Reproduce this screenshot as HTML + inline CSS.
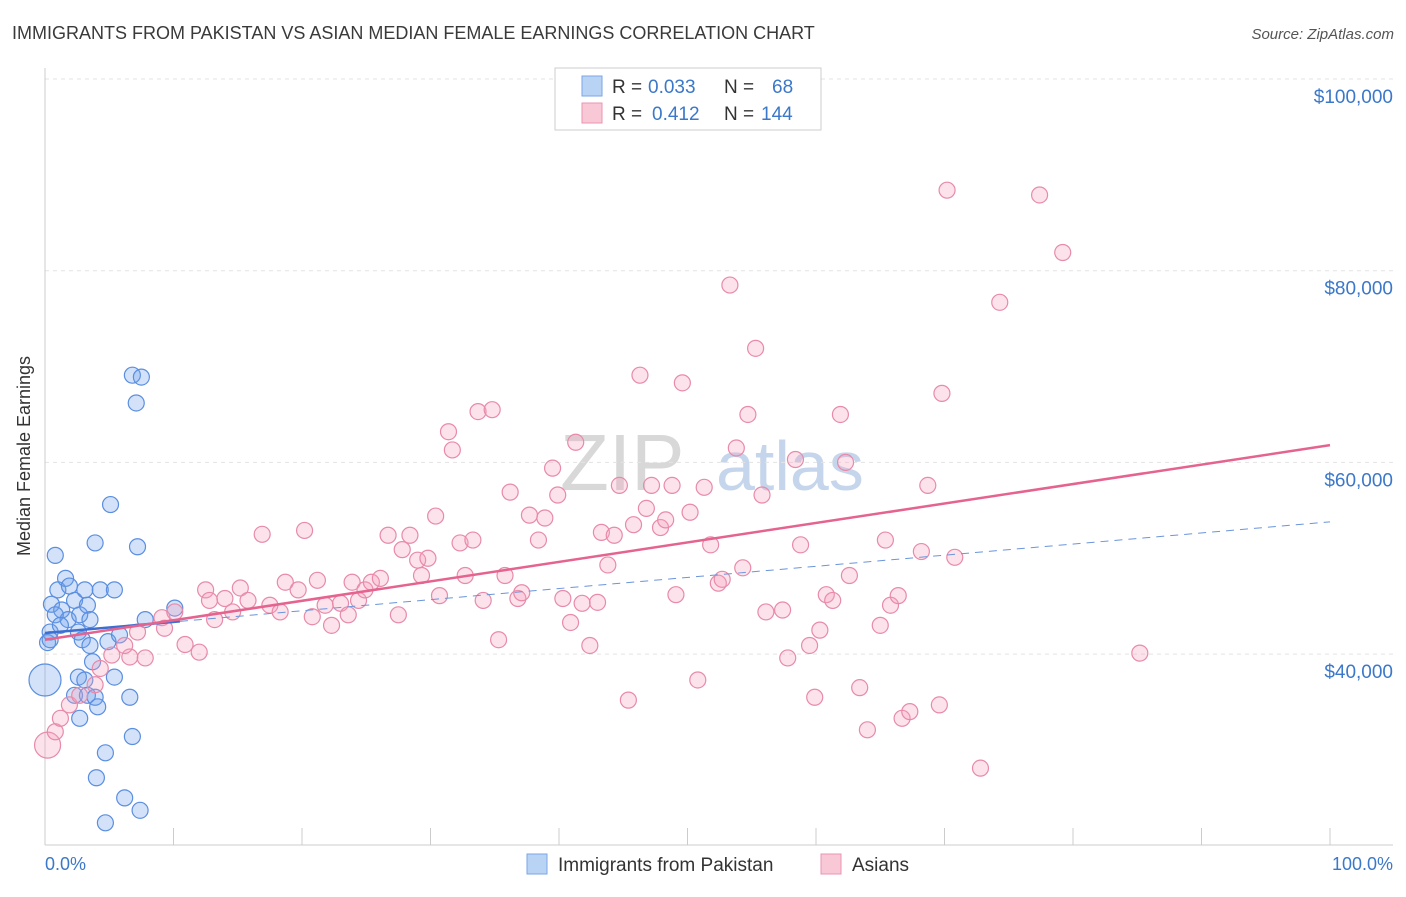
<!DOCTYPE html>
<html><head><meta charset="utf-8"><style>
body{margin:0;background:#fff;font-family:"Liberation Sans",sans-serif}
svg text{font-family:"Liberation Sans",sans-serif}
</style></head><body>
<svg id="c" width="1406" height="892" xmlns="http://www.w3.org/2000/svg">
<text x="12" y="39" font-size="18" fill="#3a3a3a">IMMIGRANTS FROM PAKISTAN VS ASIAN MEDIAN FEMALE EARNINGS CORRELATION CHART</text>
<text x="1394" y="39" font-size="15" fill="#555" font-style="italic" text-anchor="end">Source: ZipAtlas.com</text>
<text x="30" y="456" font-size="18" fill="#333" text-anchor="middle" transform="rotate(-90 30 456)">Median Female Earnings</text>
<text x="560" y="490" font-size="80" fill="#d8d8d8" font-family="Liberation Serif">ZIP</text>
<text x="716" y="490" font-size="70" fill="#c5d6ec">atlas</text>
<g id="grid"></g><g id="pts"></g><g id="lines"></g>
<g>
<rect x="555" y="68" width="266" height="62" fill="#fff" stroke="#ccc"/>
<rect x="582" y="76" width="20" height="20" fill="#b9d3f5" stroke="#7aa6e6"/>
<text x="612" y="93" font-size="19" fill="#333">R =</text><text x="648" y="93" font-size="19" fill="#3b78c9">0.033</text>
<text x="724" y="93" font-size="19" fill="#333">N =</text><text x="772" y="93" font-size="19" fill="#3b78c9">68</text>
<rect x="582" y="103" width="20" height="20" fill="#f9c8d6" stroke="#eb94b0"/>
<text x="612" y="120" font-size="19" fill="#333">R =</text><text x="652" y="120" font-size="19" fill="#3b78c9">0.412</text>
<text x="724" y="120" font-size="19" fill="#333">N =</text><text x="761" y="120" font-size="19" fill="#3b78c9">144</text>
</g>
<g>
<rect x="527" y="854" width="20" height="20" fill="#b9d3f5" stroke="#7aa6e6"/>
<text x="558" y="871" font-size="19" fill="#333">Immigrants from Pakistan</text>
<rect x="821" y="854" width="20" height="20" fill="#f9c8d6" stroke="#eb94b0"/>
<text x="852" y="871" font-size="19" fill="#333">Asians</text>
</g>
<text x="45" y="870" font-size="18" fill="#3b78c9">0.0%</text>
<text x="1393" y="870" font-size="18" fill="#3b78c9" text-anchor="end">100.0%</text>
</svg>
<script>
const yTicks=[40000,60000,80000,100000];
const yTickLabels=["$40,000","$60,000","$80,000","$100,000"];
const xTicks=[0,10,20,30,40,50,60,70,80,90,100];
const blueX=[0,0.2,0.4,0.8,0.5,1,1.6,1.9,1.3,1.8,2.3,2.7,3.1,3.3,3.5,3.9,4.3,5.4,5.1,6.8,7.5,7.1,7.2,2.6,2.9,3.5,4.9,5.8,3.7,2.6,3.1,5.4,2.3,3.3,3.9,6.6,4.1,2.7,4.7,6.8,4.0,6.2,7.4,4.7,7.8,10.1,0.8,1.2,0.4];
const blueY=[37.3,41.2,42.3,50.3,45.2,46.7,47.9,47.1,44.6,43.6,45.6,44.1,46.7,45.1,43.6,51.6,46.7,46.7,55.6,69.1,68.9,66.2,51.2,42.3,41.5,40.9,41.3,42.0,39.2,37.6,37.3,37.6,35.7,35.7,35.5,35.5,34.5,33.3,29.7,31.4,27.1,25.0,23.7,22.4,43.6,44.8,44.1,43.0,41.5];
const pinkX=[0.2,0.8,1.2,1.9,2.7,3.9,4.3,5.2,6.6,7.8,6.2,7.2,9.1,9.3,10.1,10.9,12.0,12.5,12.8,13.2,14.0,14.6,15.2,15.8,16.9,17.5,18.3,18.7,19.7,20.2,20.8,21.2,21.8,22.3,23.0,23.6,23.9,24.4,24.9,25.4,26.1,26.7,27.5,27.8,28.4,29.0,29.3,29.8,30.4,30.7,31.4,31.7,32.3,32.7,33.3,33.7,34.1,34.8,35.3,35.8,36.2,36.8,37.1,37.7,38.4,38.9,39.5,39.9,40.3,40.9,41.3,41.8,42.4,43.0,43.3,43.8,44.3,44.7,45.4,45.8,46.3,46.8,47.2,47.9,48.3,48.8,49.1,49.6,50.2,50.8,51.3,51.8,52.4,52.7,53.3,53.8,54.3,54.7,55.3,55.8,56.1,57.4,57.8,58.4,58.8,59.5,59.9,60.3,60.8,61.3,61.9,62.3,62.6,63.4,64.0,65.0,65.4,65.8,66.4,66.7,67.3,68.2,68.7,69.6,69.8,70.2,70.8,72.8,74.3,77.4,79.2,85.2];
const pinkY=[30.5,31.9,33.3,34.7,35.7,36.8,38.5,39.9,39.7,39.6,40.9,42.3,43.8,42.7,44.4,41.0,40.2,46.7,45.6,43.6,45.8,44.4,46.9,45.6,52.5,45.1,44.4,47.5,46.7,52.9,43.9,47.7,45.1,43.0,45.3,44.1,47.5,45.6,46.7,47.5,47.9,52.4,44.1,50.9,52.4,49.8,48.2,50.0,54.4,46.1,63.2,61.3,51.6,48.2,51.9,65.3,45.6,65.5,41.5,48.2,56.9,45.8,46.4,54.5,51.9,54.2,59.4,56.6,45.8,43.3,62.1,45.3,40.9,45.4,52.7,49.3,52.4,57.6,35.2,53.5,69.1,55.2,57.6,53.2,54.0,57.6,46.2,68.3,54.8,37.3,57.4,51.4,47.4,47.8,78.5,61.5,49.0,65.0,71.9,56.6,44.4,44.6,39.6,60.3,51.4,40.9,35.5,42.5,46.2,45.6,65.0,60.0,48.2,36.5,32.1,43.0,51.9,45.1,46.1,33.3,34.0,50.7,57.6,34.7,67.2,88.4,50.1,28.1,76.7,87.9,81.9,40.1];
const blueTrend=[42.2,53.8];
const pinkTrend=[41.5,61.8];
const X=p=>45+p*12.85, Y=v=>79+(100000-v)*0.009585;
const NS="http://www.w3.org/2000/svg";
function mk(t,a,p){const e=document.createElementNS(NS,t);for(const k in a)e.setAttribute(k,a[k]);p.appendChild(e);return e;}
const g=document.getElementById('grid');
yTicks.forEach((v,i)=>{
 const l=mk('line',{x1:45,x2:1393,y1:Y(v),y2:Y(v),stroke:'#e3e3e3','stroke-dasharray':'4,4'},g);
 
 
 const t=mk('text',{x:1393,y:Y(v)+24,'font-size':19,fill:'#3b78c9','text-anchor':'end'},g);t.textContent=yTickLabels[i];
 
 
});
const ax=mk('line',{x1:45,x2:1393,y1:845,y2:845,stroke:'#ccc'},g);


const ay=mk('line',{x1:45,x2:45,y1:68,y2:845,stroke:'#ccc'},g);


xTicks.forEach(p=>{const t=mk('line',{x1:X(p),x2:X(p),y1:828,y2:845,stroke:'#ccc'},g);
 
 });
const pg=document.getElementById('pts');
blueX.forEach((x,i)=>{const c=mk('circle',{cx:X(x),cy:Y(blueY[i]*1000),r:i==0?16:8,fill:'rgba(110,160,235,0.3)',stroke:'#5a8ee0','stroke-width':1.2},pg);
 
 });
pinkX.forEach((x,i)=>{const c=mk('circle',{cx:X(x),cy:Y(pinkY[i]*1000),r:i==0?13:8,fill:'rgba(245,160,190,0.3)',stroke:'#e88aa9','stroke-width':1.2},pg);
 
 });
const lg=document.getElementById('lines');
const bAt=p=>blueTrend[0]+(blueTrend[1]-blueTrend[0])*p/100, pAt=p=>pinkTrend[0]+(pinkTrend[1]-pinkTrend[0])*p/100;
const b1=mk('line',{x1:X(0),y1:Y(bAt(0)*1000),x2:X(10.5),y2:Y(bAt(10.5)*1000),stroke:'#3d6fd1','stroke-width':2.5},lg);


const b2=mk('line',{x1:X(10.5),y1:Y(bAt(10.5)*1000),x2:X(100),y2:Y(bAt(100)*1000),stroke:'#6a95dc','stroke-width':1,'stroke-dasharray':'8,6'},lg);


const p1=mk('line',{x1:X(0),y1:Y(pAt(0)*1000),x2:X(100),y2:Y(pAt(100)*1000),stroke:'#e5638f','stroke-width':2.5},lg);


</script>
</body></html>
